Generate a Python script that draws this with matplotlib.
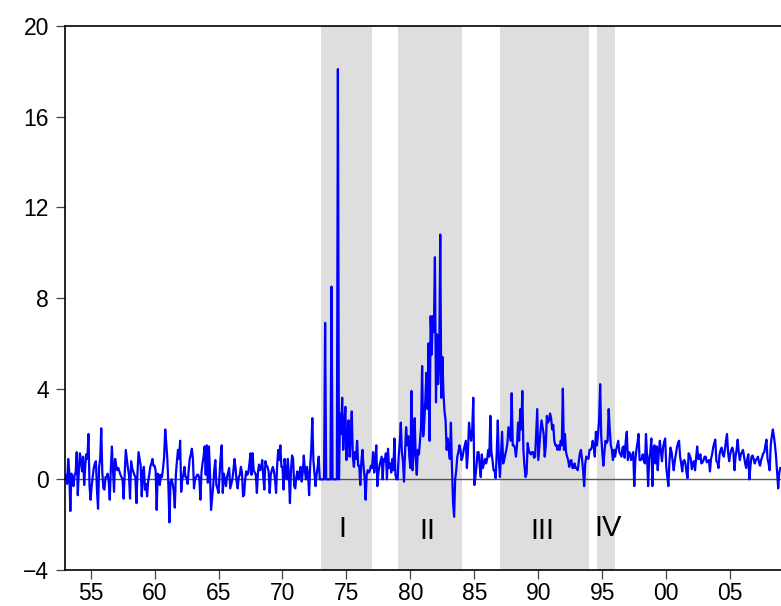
import numpy as np
import matplotlib
matplotlib.use("Agg")
import matplotlib.pyplot as plt

# ==================================================
# DATA (monthly, 1953:01 - 2008:12, one row per year)
# ==================================================

START_YEAR = 1953

vals_1950s = [
    0.1, 0.2, -0.2, 0.9, 0.3, -1.4, 0.25, 0.1, -0.3, 0.2, 0.3, 1.2,      # 1953
    -0.7, 0.4, 1.15, 0.8, 0.35, 1.0, -0.25, 0.6, 1.1, 0.9, 2.0, -0.3,    # 1954
    -0.9, -0.3, 0.1, 0.5, 0.7, 0.8, -0.5, -1.3, 0.55, 0.9, 2.25, 0.3,    # 1955
    -0.4, -0.45, 0.1, 0.1, 0.25, -0.1, -0.9, 0.5, 1.45, 0.4, -0.55, 0.9, # 1956
    0.6, 0.4, 0.5, 0.35, 0.2, 0.1, 0.0, -0.85, 0.2, 1.3, 0.9, 0.5,       # 1957
    0.2, -0.85, 0.8, 0.5, 0.35, 0.2, 0.1, -1.05, 0.3, 1.2, 0.9, 0.6,     # 1958
    -0.75, 0.3, 0.55, -0.45, -0.2, -0.75, -0.1, 0.2, 0.55, 0.7, 0.9, 0.6,  # 1959
]

vals_1960s = [
    0.6, 0.4, -1.35, 0.25, 0.2, -0.25, 0.2, 0.1, 0.5, 1.0, 2.2, 1.6,     # 1960
    0.9, -0.3, -1.9, -0.1, 0.0, -0.2, -0.5, -1.25, 0.2, 0.8, 1.3, 0.9,   # 1961
    1.7, -0.55, 0.0, 0.2, 0.55, 0.1, 0.1, -0.2, 0.4, 0.9, 1.1, 1.35,     # 1962
    0.9, -0.4, 0.0, 0.1, 0.2, 0.2, 0.05, -0.9, 0.3, 0.7, 1.0, 1.45,      # 1963
    0.2, 1.5, -0.15, 1.45, 0.3, -1.35, -0.8, -0.3, 0.4, 0.85, -0.25, -0.4,  # 1964
    -0.6, 0.2, 1.0, 1.5, -0.6, 0.25, 0.0, -0.3, 0.1, 0.3, 0.5, -0.4,     # 1965
    -0.2, 0.0, 0.4, 0.9, 0.5, -0.1, -0.4, 0.1, 0.2, 0.55, 0.3, -0.75,    # 1966
    -0.7, 0.0, 0.35, 0.2, 0.3, 0.7, 1.15, 0.2, 1.15, 0.4, 0.3, 0.2,      # 1967
    -0.6, 0.3, 0.65, 0.4, 0.5, 0.85, 0.1, -0.45, 0.8, 0.6, 0.55, 0.35,   # 1968
    -0.6, 0.2, 0.4, 0.55, 0.35, 0.0, -0.6, 0.6, 1.3, 0.85, 1.5, 0.55,    # 1969
]

vals_1970s = [
    0.55, -0.45, 0.9, 0.3, 0.0, 0.9, 0.2, -1.05, 0.4, 1.05, 0.9, -0.3,   # 1970
    -0.4, 0.1, 0.35, 0.0, 0.2, 0.55, -0.1, 0.3, 1.05, 0.4, 0.0, 0.55,    # 1971
    0.2, -0.7, 0.6, 1.35, 2.7, 0.85, 0.3, -0.3, 0.2, 0.55, 1.0, 0.0,     # 1972
    0.0, 0.0, 0.0, 0.0, 6.9, 0.0, 0.0, 0.0, 0.0, 0.0, 8.5, 0.0,          # 1973
    0.0, 0.0, 0.0, 0.0, 18.1, 0.0, 2.9, 2.0, 3.6, 1.3, 2.4, 3.2,         # 1974
    0.85, 1.8, 2.6, 1.0, 1.8, 3.0, 1.0, 0.55, 1.2, 0.9, 1.7, 0.6,        # 1975
    0.6, -0.25, 0.8, 1.3, 0.6, 0.1, -0.9, 0.2, 0.4, 0.3, 0.4, 0.6,       # 1976
    0.5, 1.2, 0.3, 0.8, 1.5, -0.3, 0.3, 0.6, 0.8, 1.0, 0.0, 0.9,         # 1977
    0.8, 1.15, 0.0, 1.35, 0.5, 0.7, 0.3, 0.9, 0.4, 1.8, 0.2, 0.0,        # 1978
    0.0, 1.0, 1.6, 2.5, 1.2, 0.8, -0.1, 1.2, 2.3, 1.5, 1.9, 1.0,         # 1979
]

vals_1980s = [
    0.5, 3.9, 0.4, 1.2, 2.7, 1.0, 0.2, 1.3, 1.1, 1.7, 2.3, 5.0,          # 1980
    1.9, 2.5, 3.5, 4.7, 3.1, 6.0, 1.7, 7.2, 5.5, 7.2, 6.5, 9.8,          # 1981
    3.4, 6.4, 4.2, 5.0, 10.8, 3.6, 5.4, 3.8, 3.0, 2.6, 1.3, 1.8,         # 1982
    1.3, 0.9, 2.5, 0.5, -1.0, -1.65, 0.0, 0.4, 1.0, 1.2, 1.5, 1.3,       # 1983
    0.85, 1.0, 1.3, 1.5, 1.7, 0.5, 1.2, 2.5, 2.0, 1.7, 2.2, 3.6,         # 1984
    -0.25, 0.1, 0.6, 1.2, 1.2, 0.6, 0.1, 1.1, 0.5, 0.7, 0.9, 0.7,        # 1985
    0.9, 1.3, 1.0, 2.8, 1.2, 0.85, 0.4, 0.4, 0.05, 1.2, 2.6, 0.8,        # 1986
    0.1, 1.15, 2.1, 0.7, 0.85, 1.1, 1.3, 1.6, 2.3, 2.0, 1.7, 3.8,        # 1987
    1.5, 1.5, 1.4, 1.0, 1.5, 2.5, 1.7, 3.1, 2.2, 3.9, 1.3, 0.6,          # 1988
    0.1, 0.25, 1.6, 1.3, 1.15, 1.1, 1.2, 1.2, 0.95, 1.0, 2.0, 3.1,       # 1989
]

vals_1990s = [
    0.85, 1.5, 2.1, 2.6, 2.3, 2.0, 1.0, 1.5, 2.8, 2.5, 2.6, 2.9,         # 1990
    2.7, 2.2, 2.4, 1.7, 1.5, 1.5, 1.3, 1.5, 1.3, 1.7, 1.5, 4.0,          # 1991
    1.3, 2.0, 1.2, 1.0, 0.85, 0.55, 0.8, 0.85, 0.5, 0.5, 0.7, 0.5,       # 1992
    0.5, 0.4, 0.8, 1.15, 1.3, 0.9, 0.4, -0.3, 0.7, 1.0, 0.95, 0.9,       # 1993
    1.3, 1.3, 1.4, 1.7, 1.4, 1.0, 2.1, 1.5, 2.0, 2.6, 4.2, 1.9,          # 1994
    1.2, 0.6, 1.2, 1.7, 1.6, 1.7, 3.1, 2.2, 1.5, 1.3, 0.85, 1.3,         # 1995
    1.0, 1.3, 1.5, 1.7, 1.2, 1.1, 1.0, 1.4, 1.45, 0.95, 1.7, 2.1,        # 1996
    0.85, 1.2, 1.15, 0.85, 1.0, 1.2, -0.3, 0.85, 1.3, 1.6, 2.0, 0.85,    # 1997
    0.85, 0.9, 1.1, 0.8, 0.7, 2.0, 1.0, -0.3, 0.9, 1.2, 1.8, -0.3,       # 1998
    1.4, 1.5, 0.7, 1.45, 0.4, 1.2, 1.7, 1.2, 0.8, 1.4, 1.65, 1.8,        # 1999
]

vals_2000s = [
    0.55, 0.1, -0.3, 0.8, 1.4, 1.2, 0.8, 0.4, 0.8, 1.1, 1.4, 1.6,        # 2000
    1.7, 1.0, 0.7, 0.35, 0.8, 0.85, 0.7, 0.3, 0.05, 1.15, 1.05, 0.9,     # 2001
    0.45, 0.7, 0.8, 0.4, 0.9, 1.45, 0.9, 0.9, 1.1, 0.7, 0.75, 0.85,      # 2002
    1.0, 1.0, 0.75, 0.8, 0.85, 0.35, 0.9, 1.1, 1.4, 1.6, 1.75, 0.8,      # 2003
    0.75, 0.5, 1.1, 1.3, 1.4, 1.1, 1.0, 1.3, 1.7, 2.0, 1.2, 0.8,         # 2004
    1.1, 1.3, 1.4, 1.2, 0.4, 1.0, 1.3, 1.75, 1.2, 0.85, 1.1, 1.2,        # 2005
    1.3, 1.0, 0.7, 0.5, 0.9, 1.1, 0.0, 0.6, 1.0, 1.05, 0.9, 0.7,         # 2006
    0.85, 0.9, 1.0, 0.75, 0.6, 0.85, 1.0, 1.15, 1.2, 1.5, 1.75, 0.9,     # 2007
    0.7, 0.4, 1.5, 1.9, 2.2, 1.9, 1.5, 1.0, 0.3, -0.4, 0.3, 0.5,         # 2008
]

# shaded regimes (start, end in years) and their labels
period_starts = [1973.0, 1979.0, 1987.0, 1994.6]
period_ends = [1977.0, 1984.0, 1994.0, 1996.0]
period_labels = ["I", "II", "III", "IV"]
label_x = [1974.67, 1981.35, 1990.29, 1995.42]
label_y = [-2.2, -2.3, -2.27, -2.15]

year_ticks = [1955, 1960, 1965, 1970, 1975, 1980, 1985, 1990, 1995, 2000, 2005]
y_ticks = [-4, 0, 4, 8, 12, 16, 20]

series = np.array(vals_1950s + vals_1960s + vals_1970s
                  + vals_1980s + vals_1990s + vals_2000s)
dates = START_YEAR + np.arange(len(series)) / 12.0

# ==================================================
# PLOT
# ==================================================

plt.rcParams["font.family"] = ["Liberation Sans", "DejaVu Sans"]

fig = plt.figure(figsize=(7.81, 6.06), dpi=100)
ax = fig.add_axes([65 / 781, 1 - 570 / 606, 1 - 65 / 781, (570 - 26) / 606])

for s, e in zip(period_starts, period_ends):
    ax.axvspan(s, e, color="#dedede", lw=0, zorder=0)

ax.axhline(0, color="#555555", lw=1.0, zorder=1)

ax.plot(dates, series, color="#0000ff", lw=1.6, zorder=2)

for lab, lx, ly in zip(period_labels, label_x, label_y):
    ax.text(lx, ly, lab, fontsize=21, ha="center", va="center", zorder=3)

ax.set_xlim(1953.0, 2008.97)
ax.set_ylim(-4, 20)
ax.set_xticks(year_ticks)
ax.set_xticklabels([f"{y % 100:02d}" for y in year_ticks])
ax.set_yticks(y_ticks)

ax.spines["right"].set_visible(False)
for side in ["left", "top", "bottom"]:
    ax.spines[side].set_linewidth(1.2)
    ax.spines[side].set_color("black")

ax.tick_params(axis="both", direction="out", length=6.5, width=0.9,
               color="#444444", labelsize=16.5)
ax.tick_params(axis="y", pad=5)
ax.tick_params(axis="x", pad=2.5)

fig.savefig("out.png", dpi=100)
